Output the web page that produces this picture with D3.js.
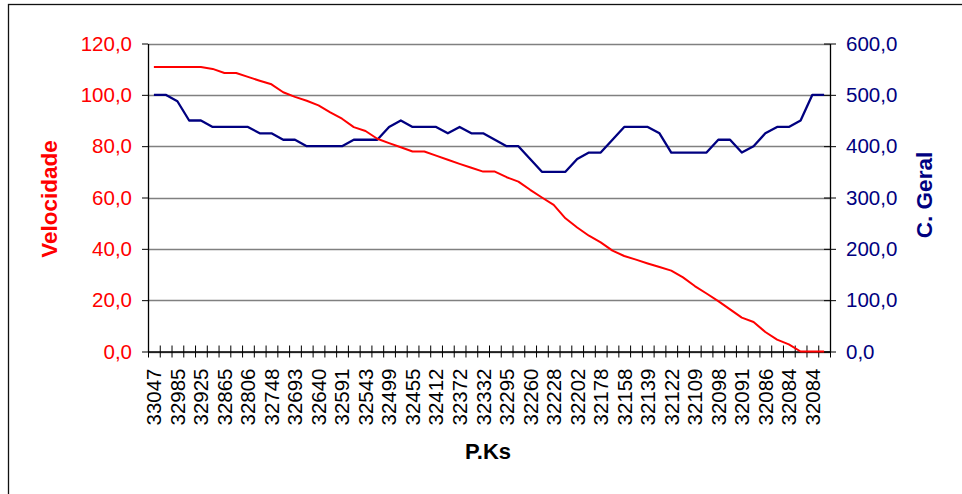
<!DOCTYPE html>
<html>
<head>
<meta charset="utf-8">
<script src="https://cdn.jsdelivr.net/npm/d3@7"></script>
<style>
  html, body { margin: 0; padding: 0; background: #fff; }
  svg { display: block; font-family: "Liberation Sans", Arial, sans-serif; }
</style>
</head>
<body>
<svg id="chart" width="962" height="494"></svg>
<script>
// ---- data ----
const categories = [
  "33047","33016","32985","32955","32925","32895","32865","32835","32806","32777",
  "32748","32720","32693","32666","32640","32615","32591","32567","32543","32521",
  "32499","32477","32455","32433","32412","32392","32372","32352","32332","32313",
  "32295","32277","32260","32244","32228","32215","32202","32190","32178","32168",
  "32158","32148","32139","32130","32122","32115","32109","32103","32098","32094",
  "32091","32088","32086","32085","32084","32084","32084","32084"
];
const velocidade = [
  110.8,110.8,110.8,110.8,110.8,110.1,108.5,108.5,107.0,105.5,
  104.1,101.0,99.2,97.7,95.9,93.2,90.7,87.4,85.9,82.9,
  81.2,79.6,77.9,77.9,76.3,74.7,73.1,71.6,70.1,70.1,
  67.9,66.2,63.0,60.0,57.1,51.9,48.3,45.1,42.5,39.3,
  37.2,35.8,34.3,32.9,31.5,28.9,25.5,22.6,19.6,16.4,
  13.2,11.5,7.6,4.6,2.8,0,0,0
];
const cGeral = [
  500,500,487.5,450,450,437.5,437.5,437.5,437.5,425,
  425,412.5,412.5,400,400,400,400,412.5,412.5,412.5,
  437.5,450,437.5,437.5,437.5,425,437.5,425,425,412.5,
  400,400,375,350,350,350,375,387.5,387.5,412.5,
  437.5,437.5,437.5,425,387.5,387.5,387.5,387.5,412.5,412.5,
  387.5,400,425,437.5,437.5,450,500,500
];
const leftTicks = [0,20,40,60,80,100,120];
const rightTicks = [0,100,200,300,400,500,600];
const xTitle = "P.Ks";
const leftTitle = "Velocidade";
const rightTitle = "C. Geral";

// ---- layout ----
const L = 148, R = 830, T = 43.5, B = 351.5;
const svg = d3.select("#chart");
const fmt = v => d3.format(".1f")(v).replace(".", ",");

// border
svg.append("rect").attr("x", 8.5).attr("y", 4.5).attr("width", 1000).attr("height", 600)
  .attr("fill", "none").attr("stroke", "#111").attr("stroke-width", 1.3);

const n = categories.length;
const xBand = d3.scaleBand().domain(d3.range(n)).range([L, R]).padding(0);
const xEdge = d3.scaleLinear().domain([0, n]).range([L, R]);
const yL = d3.scaleLinear().domain([0, 120]).range([B, T]);
const yR = d3.scaleLinear().domain([0, 600]).range([B, T]);
const cx = i => xBand(i) + xBand.bandwidth() / 2;

// gridlines
svg.append("g").selectAll("line").data(leftTicks).join("line")
  .attr("x1", L).attr("x2", R)
  .attr("y1", d => Math.round(yL(d)) + 0.5).attr("y2", d => Math.round(yL(d)) + 0.5)
  .attr("stroke", "#808080").attr("stroke-width", 1.3);

// left axis
const gL = svg.append("g").attr("transform", `translate(${L},0)`)
  .call(d3.axisLeft(yL).tickValues(leftTicks).tickFormat(fmt).tickSize(6).tickSizeOuter(0).tickPadding(10));
gL.select(".domain").attr("stroke", "#000").attr("stroke-width", 1.3);
gL.selectAll(".tick line").attr("stroke", "#000").attr("x2", -6).attr("x1", 0);
gL.selectAll(".tick text").attr("fill", "#ff0000").attr("font-size", 20.5)
  .attr("font-family", "Liberation Sans, Arial, sans-serif");

// right axis
const gR = svg.append("g").attr("transform", `translate(${R},0)`)
  .call(d3.axisRight(yR).tickValues(rightTicks).tickFormat(fmt).tickSize(6).tickSizeOuter(0).tickPadding(10));
gR.select(".domain").attr("stroke", "#000").attr("stroke-width", 1.3);
gR.selectAll(".tick line").attr("stroke", "#000").attr("x1", -6).attr("x2", 6);
gR.selectAll(".tick text").attr("fill", "#000080").attr("font-size", 20.5)
  .attr("font-family", "Liberation Sans, Arial, sans-serif");

// bottom ticks (cross style at category boundaries)
const gB = svg.append("g").attr("transform", `translate(0,${B})`)
  .call(d3.axisBottom(xEdge).tickValues(d3.range(n + 1)).tickFormat("").tickSize(6).tickSizeOuter(0));
gB.select(".domain").attr("stroke", "#000").attr("stroke-width", 1.3);
gB.selectAll(".tick line").attr("stroke", "#000").attr("y1", -6).attr("y2", 6);

// bottom labels every other category
const gBL = svg.append("g").attr("transform", `translate(0,${B})`)
  .call(d3.axisBottom(xBand).tickValues(d3.range(0, n, 2)).tickFormat(i => categories[i]).tickSize(0));
gBL.select(".domain").remove();
gBL.selectAll(".tick text")
  .attr("transform", "rotate(-90)")
  .attr("x", -17).attr("y", 0).attr("dy", "0.36em")
  .attr("text-anchor", "end")
  .attr("fill", "#000").attr("font-size", 20.5)
  .attr("font-family", "Liberation Sans, Arial, sans-serif");

// lines
const lineL = d3.line().x((d, i) => cx(i)).y(d => yL(d));
const lineR = d3.line().x((d, i) => cx(i)).y(d => yR(d));
svg.append("path").datum(cGeral).attr("d", lineR)
  .attr("fill", "none").attr("stroke", "#000080").attr("stroke-width", 2.3).attr("stroke-linejoin", "round");
svg.append("path").datum(velocidade).attr("d", lineL)
  .attr("fill", "none").attr("stroke", "#ff0000").attr("stroke-width", 2).attr("stroke-linejoin", "round");

// titles
svg.append("text").attr("x", 488).attr("y", 459).attr("text-anchor", "middle")
  .attr("font-size", 22).attr("font-weight", "bold").attr("fill", "#000").text(xTitle);
svg.append("text").attr("transform", "translate(56.5,199) rotate(-90)").attr("text-anchor", "middle")
  .attr("font-size", 22.5).attr("font-weight", "bold").attr("fill", "#ff0000").text(leftTitle);
svg.append("text").attr("transform", "translate(931.5,195) rotate(-90)").attr("text-anchor", "middle")
  .attr("font-size", 22.5).attr("font-weight", "bold").attr("fill", "#000080").text(rightTitle);
</script>
</body>
</html>
